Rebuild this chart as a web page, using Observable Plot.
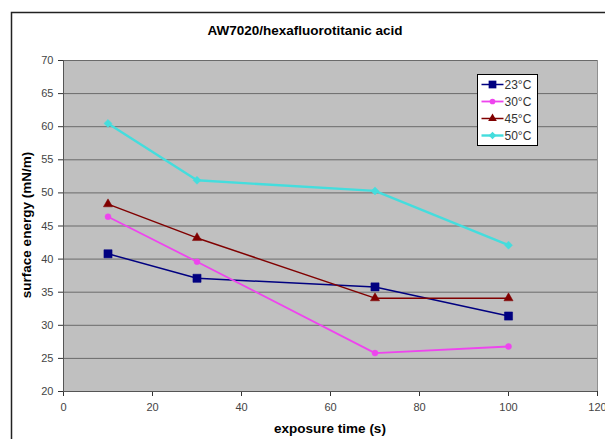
<!DOCTYPE html>
<html><head><meta charset="utf-8">
<script src="https://cdn.jsdelivr.net/npm/d3@7"></script>
<script src="https://cdn.jsdelivr.net/npm/@observablehq/plot@0.6"></script>
<style>html,body{margin:0;padding:0;background:#fff;overflow:hidden}</style>
</head><body><div id="chart"></div>
<script>
const times = [10, 30, 70, 100];
const seriesNames = ["23°C", "30°C", "45°C", "50°C"];
const s23 = [40.8, 37.1, 35.8, 31.4];
const s30 = [46.4, 39.6, 25.8, 26.8];
const s45 = [48.3, 43.2, 34.1, 34.1];
const s50 = [60.5, 51.9, 50.3, 42.1];
const xTicks = [0, 20, 40, 60, 80, 100, 120];
const yTicks = [20, 25, 30, 35, 40, 45, 50, 55, 60, 65, 70];
const title = "AW7020/hexafluorotitanic acid";
const xLabel = "exposure time (s)";
const yLabel = "surface energy (mN/m)";

const colors = ["#000080", "#ee44ee", "#800000", "#44dddd"];
const symbols = ["square", "circle", "triangle", "diamond2"];
const radii = [4.6, 3, 3.4, 3.6];
const widths = [1.5, 1.8, 1.5, 2.4];
const allSeries = [s23, s30, s45, s50];

const data = allSeries.flatMap((vals, i) => vals.map((v, j) => ({series: seriesNames[i], t: times[j], v})));

const lineMarks = seriesNames.flatMap((name, i) => {
  const d = data.filter(r => r.series === name);
  return [
    Plot.line(d, {x: "t", y: "v", stroke: colors[i], strokeWidth: widths[i]}),
    Plot.dot(d, {x: "t", y: "v", fill: colors[i], stroke: colors[i], strokeWidth: 0.5, symbol: () => symbols[i], r: radii[i]})
  ];
});

const chart = Plot.plot({
  width: 605, height: 439,
  marginLeft: 63, marginTop: 60, marginRight: 8, marginBottom: 48,
  style: {fontFamily: "'Liberation Sans', Arial, sans-serif", fontSize: "11px", background: "#fff", color: "#404040"},
  x: {domain: [0, 120], label: null},
  y: {domain: [20, 70], label: null},
  symbol: {domain: symbols, range: symbols},
  marks: [
    Plot.frame({fill: "#c0c0c0", stroke: "#909090"}),
    Plot.gridY(yTicks, {stroke: "#6a6a6a", strokeOpacity: 1, strokeWidth: 1}),
    Plot.axisX(xTicks, {tickSize: 5, tickPadding: 7, stroke: "#333", fill: "#444", fontSize: 11}),
    Plot.axisY(yTicks, {tickSize: 5, tickPadding: 5, stroke: "#333", fill: "#444", fontSize: 11}),
    Plot.ruleX([0], {stroke: "#555"}),
    Plot.ruleY([20], {stroke: "#555"}),
    ...lineMarks
  ]
});
document.getElementById("chart").appendChild(chart);

const svg = d3.select(chart);
// outer frame
svg.append("rect").attr("x", 11.5).attr("y", 12.5).attr("width", 620).attr("height", 460)
  .attr("fill", "none").attr("stroke", "#222").attr("stroke-width", 1.5);
svg.append("text").attr("x", 305).attr("y", 35).attr("text-anchor", "middle")
  .attr("font-weight", "bold").attr("font-size", 13.5).attr("fill", "#000").text(title);
svg.append("text").attr("x", 330).attr("y", 433).attr("text-anchor", "middle")
  .attr("font-weight", "bold").attr("font-size", 13.5).attr("fill", "#000").text(xLabel);
svg.append("text").attr("transform", "translate(31,225) rotate(-90)").attr("text-anchor", "middle")
  .attr("font-weight", "bold").attr("font-size", 13.5).attr("fill", "#000").text(yLabel);

// legend
const lg = svg.append("g").attr("transform", "translate(477.5,74.5)");
lg.append("rect").attr("width", 60).attr("height", 71).attr("fill", "#fff").attr("stroke", "#000");
const symGen = {square: d3.symbolSquare, circle: d3.symbolCircle, triangle: d3.symbolTriangle, diamond2: d3.symbolDiamond2};
seriesNames.forEach((name, i) => {
  const y = 10 + i * 17;
  lg.append("line").attr("x1", 4).attr("x2", 26).attr("y1", y).attr("y2", y)
    .attr("stroke", colors[i]).attr("stroke-width", widths[i]);
  lg.append("path").attr("transform", `translate(15,${y})`)
    .attr("d", d3.symbol(symGen[symbols[i]], Math.PI * radii[i] * radii[i] * 0.9)())
    .attr("fill", colors[i]);
  lg.append("text").attr("x", 27).attr("y", y + 4).attr("text-anchor", "start")
    .attr("font-size", 12).attr("fill", "#333").text(name);
});
</script></body></html>
